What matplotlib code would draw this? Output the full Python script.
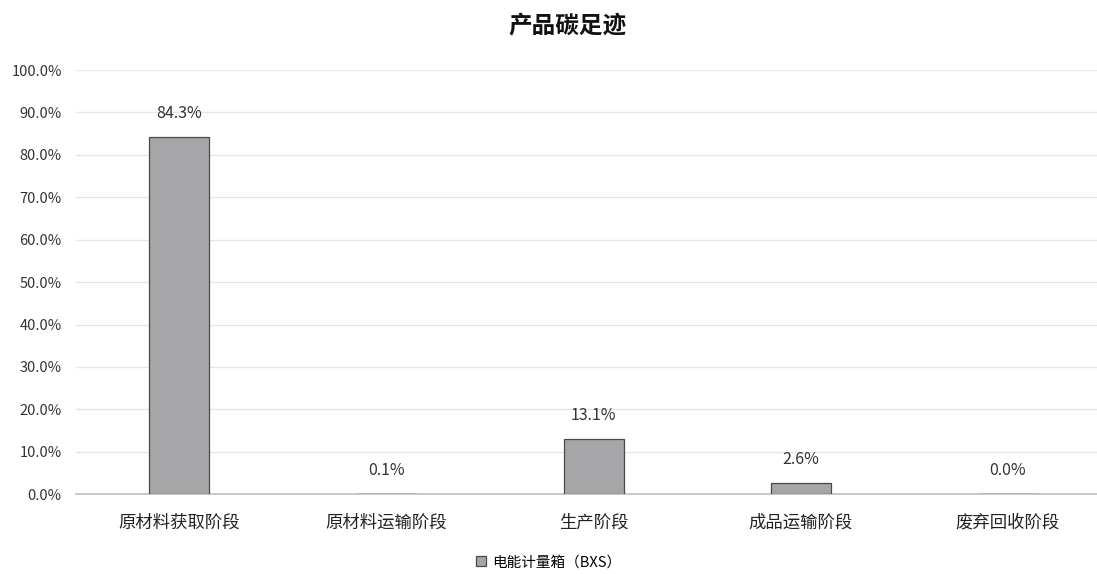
import matplotlib.pyplot as plt
from matplotlib.ticker import FuncFormatter

plt.rcParams['font.family'] = ['Noto Sans CJK SC', 'DejaVu Sans']

# Data
stages = ["原材料获取阶段", "原材料运输阶段", "生产阶段", "成品运输阶段", "废弃回收阶段"]
shares = [84.3, 0.1, 13.1, 2.6, 0.0]
labels = ["84.3%", "0.1%", "13.1%", "2.6%", "0.0%"]
series_name = "电能计量箱（BXS）"

fig = plt.figure(figsize=(10.97, 5.74), dpi=100)
ax = fig.add_axes([0.069, 0.139, 0.931, 0.739])

x = range(len(stages))
bars = ax.bar(x, shares, width=0.29, color="#a6a6a8", edgecolor="#4a4a4a",
              linewidth=0.9, label=series_name, zorder=3)

# Value labels above bars
for xi, v, t in zip(x, shares, labels):
    ax.text(xi, v + 3.5, t, ha="center", va="bottom", fontsize=11.5, color="#333333")

ax.set_xlim(-0.5, 4.43)
ax.set_ylim(0, 100)
ax.set_yticks(range(0, 101, 10))
ax.yaxis.set_major_formatter(FuncFormatter(lambda v, _: f"{v:.1f}%"))
ax.set_xticks(list(x))
ax.set_xticklabels(stages, fontsize=12.5, color="#222222")
ax.tick_params(axis="y", labelsize=10.5, colors="#333333", length=0, pad=10)
ax.tick_params(axis="x", length=0, pad=14)

ax.grid(axis="y", color="#e6e6e6", linewidth=1, zorder=0)
for side in ["top", "right", "left"]:
    ax.spines[side].set_visible(False)
ax.spines["bottom"].set_color("#c0c0c0")
ax.spines["bottom"].set_linewidth(1.2)

fig.suptitle("产品碳足迹", fontsize=17, fontweight="bold", y=0.975, x=0.517, color="#111111")

fig.legend(loc="lower center", bbox_to_anchor=(0.5, -0.015), frameon=False,
           fontsize=10.5, handlelength=0.7, handleheight=0.7, handletextpad=0.4)

fig.savefig("out.png", dpi=100)
